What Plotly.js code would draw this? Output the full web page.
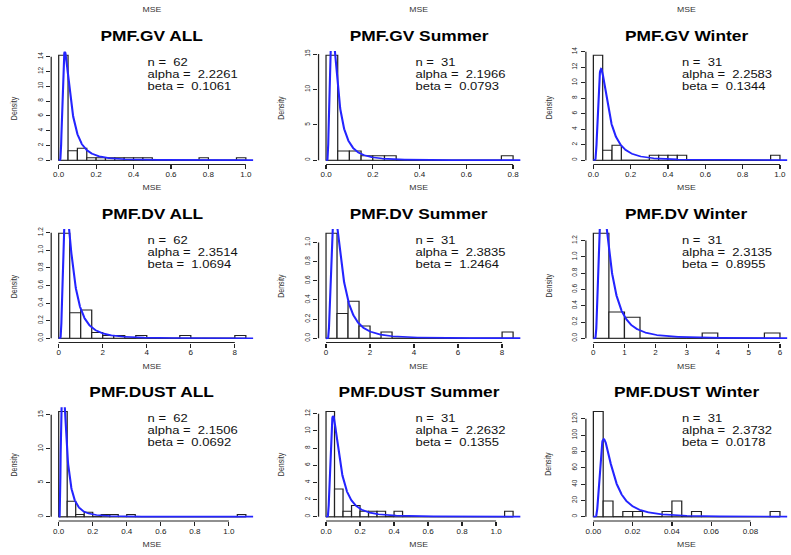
<!DOCTYPE html>
<html>
<head>
<meta charset="utf-8">
<script src="https://cdn.plot.ly/plotly-3.0.1.min.js"></script>
<style>
  html, body { margin: 0; padding: 0; background: #ffffff; overflow: hidden; }
  /* the figure is laid out narrower and widened horizontally */
  #chart { width: 638px; height: 555px; transform: scaleX(1.24); transform-origin: 0 0; }
</style>
</head>
<body>
<div id="chart"></div>
<script>
// ---- panel metadata -------------------------------------------------------
const panelTitles = ['PMF.GV ALL', 'PMF.GV Summer', 'PMF.GV Winter',
                     'PMF.DV ALL', 'PMF.DV Summer', 'PMF.DV Winter',
                     'PMF.DUST ALL', 'PMF.DUST Summer', 'PMF.DUST Winter'];
const sampleSizes = [62, 31, 31, 62, 31, 31, 62, 31, 31];
const alphaValues = [2.2261, 2.1966, 2.2583, 2.3514, 2.3835, 2.3135, 2.1506, 2.2632, 2.3732];
const betaValues  = [0.1061, 0.0793, 0.1344, 1.0694, 1.2464, 0.8955, 0.0692, 0.1355, 0.0178];
const binWidths   = [0.05, 0.05, 0.05, 0.5, 0.5, 0.5, 0.05, 0.05, 0.005];

// ---- histogram counts per bin (bins start at 0) ---------------------------
const gvAllCounts      = [44, 4, 5, 1, 1, 1, 1, 1, 1, 1, 0, 0, 0, 0, 0, 1, 0, 0, 0, 1];
const gvSummerCounts   = [23, 2, 2, 1, 1, 1, 0, 0, 0, 0, 0, 0, 0, 0, 0, 1];
const gvWinterCounts   = [21, 2, 3, 0, 0, 0, 1, 1, 1, 1, 0, 0, 0, 0, 0, 0, 0, 0, 0, 1];
const dvAllCounts      = [37, 9, 10, 2, 1, 1, 0, 1, 0, 0, 0, 1, 0, 0, 0, 0, 1];
const dvSummerCounts   = [17, 4, 6, 2, 0, 1, 0, 0, 0, 0, 0, 0, 0, 0, 0, 0, 1];
const dvWinterCounts   = [20, 5, 4, 0, 0, 0, 0, 1, 0, 0, 0, 1];
const dustAllCounts    = [48, 7, 1, 2, 0, 1, 1, 0, 1, 0, 0, 0, 0, 0, 0, 0, 0, 0, 0, 0, 0, 1];
const dustSummerCounts = [19, 5, 1, 2, 1, 1, 1, 0, 1, 0, 0, 0, 0, 0, 0, 0, 0, 0, 0, 0, 0, 1];
const dustWinterCounts = [20, 3, 0, 1, 1, 0, 0, 1, 3, 0, 1, 0, 0, 0, 0, 0, 0, 0, 1];
const binCounts = [gvAllCounts, gvSummerCounts, gvWinterCounts,
                   dvAllCounts, dvSummerCounts, dvWinterCounts,
                   dustAllCounts, dustSummerCounts, dustWinterCounts];

// ---- tick labels ----------------------------------------------------------
const xTickLabels = [
  ['0.0', '0.2', '0.4', '0.6', '0.8', '1.0'],
  ['0.0', '0.2', '0.4', '0.6', '0.8'],
  ['0.0', '0.2', '0.4', '0.6', '0.8', '1.0'],
  ['0', '2', '4', '6', '8'],
  ['0', '2', '4', '6', '8'],
  ['0', '1', '2', '3', '4', '5', '6'],
  ['0.0', '0.2', '0.4', '0.6', '0.8', '1.0'],
  ['0.0', '0.2', '0.4', '0.6', '0.8', '1.0'],
  ['0.00', '0.02', '0.04', '0.06', '0.08']
];
const yTickLabels = [
  ['0', '2', '4', '6', '8', '10', '12', '14'],
  ['0', '5', '10', '15'],
  ['0', '2', '4', '6', '8', '10', '12', '14'],
  ['0.0', '0.2', '0.4', '0.6', '0.8', '1.0', '1.2'],
  ['0.0', '0.2', '0.4', '0.6', '0.8', '1.0'],
  ['0.0', '0.2', '0.4', '0.6', '0.8', '1.0', '1.2'],
  ['0', '5', '10', '15'],
  ['0', '2', '4', '6', '8', '10', '12'],
  ['0', '20', '40', '60', '80', '100', '120']
];
const xAxisLabel = 'MSE';
const yAxisLabel = 'Density';

// ---- page geometry (pixels of the final 791 x 555 figure) ------------------
const FIG_W = 791, FIG_H = 555;
const colLeft = [51.2, 318.5, 585.8], colRight = [253.3, 520.5, 787.3];
const rowTop = [51, 229, 407.3], rowBottom = [164.4, 342.5, 520.9];

const FONT = '"Liberation Sans", Arial, Helvetica, sans-serif';
const INK = '#222222';

// log-gamma (Lanczos approximation)
function lnGamma(z) {
  const c = [0.99999999999980993, 676.5203681218851, -1259.1392167224028,
             771.32342877765313, -176.61502916214059, 12.507343278686905,
             -0.13857109526572012, 9.9843695780195716e-6, 1.5056327351493116e-7];
  if (z < 0.5) return Math.log(Math.PI / Math.sin(Math.PI * z)) - lnGamma(1 - z);
  z -= 1;
  let s = c[0];
  for (let i = 1; i < 9; i++) s += c[i] / (z + i);
  const t = z + 7.5;
  return 0.5 * Math.log(2 * Math.PI) + (z + 0.5) * Math.log(t) - t + Math.log(s);
}

// inverse-gamma density with shape a and scale b
function invGammaPdf(x, a, b) {
  if (x <= 0) return 0;
  return Math.exp(a * Math.log(b) - lnGamma(a) - (a + 1) * Math.log(x) - b / x);
}

const nbsp = '\u00A0';
const traces = [];
const shapes = [];
const annotations = [];
const layout = {
  width: 638, height: FIG_H,
  margin: { l: 0, r: 0, t: 0, b: 0 },
  paper_bgcolor: '#ffffff', plot_bgcolor: '#ffffff',
  showlegend: false,
  font: { family: FONT, color: INK },
  bargap: 0
};

const px2x = p => p / FIG_W;
const px2y = p => 1 - p / FIG_H;

for (let i = 0; i < 9; i++) {
  const row = Math.floor(i / 3), col = i % 3;
  const k = i === 0 ? '' : String(i + 1);
  const xa = 'x' + k, ya = 'y' + k;

  const counts = binCounts[i];
  const w = binWidths[i];
  const n = sampleSizes[i];
  const centers = counts.map((_, j) => (j + 0.5) * w);
  const dens = counts.map(c => c / (n * w));
  const xMax = counts.length * w;
  const yMax = Math.max(...dens);
  const xRange = [-0.04 * xMax, 1.04 * xMax];
  const yRange = [-0.04 * yMax, 1.04 * yMax];

  const xVals = xTickLabels[i].map(Number);
  const yVals = yTickLabels[i].map(Number);

  layout['xaxis' + k] = {
    domain: [px2x(colLeft[col]), px2x(colRight[col])],
    anchor: ya, range: xRange, fixedrange: true,
    showline: false, zeroline: false, showgrid: false,
    tickmode: 'array', tickvals: xVals, ticktext: xTickLabels[i],
    ticks: 'outside', ticklen: 4, tickwidth: 1, tickcolor: INK,
    tickfont: { family: FONT, size: 6.5, color: INK }
  };
  layout['yaxis' + k] = {
    domain: [px2y(rowBottom[row]), px2y(rowTop[row])],
    anchor: xa, range: yRange, fixedrange: true,
    showline: false, zeroline: false, showgrid: false,
    tickmode: 'array', tickvals: yVals, ticktext: yTickLabels[i],
    ticks: 'outside', ticklen: 3.3, tickwidth: 1, tickcolor: INK,
    tickangle: -90,
    tickfont: { family: FONT, size: 6.5, color: INK }
  };

  // histogram bars
  traces.push({
    type: 'bar', xaxis: xa, yaxis: ya,
    x: centers, y: dens, width: counts.map(() => w),
    marker: { color: '#ffffff', line: { color: INK, width: 1 } },
    hoverinfo: 'skip'
  });

  // fitted inverse-gamma density
  const a = alphaValues[i], b = betaValues[i];
  const cx = [], cy = [];
  const N = 800;
  for (let j = 0; j <= N; j++) {
    const x = xRange[1] * j / N;
    cx.push(x);
    cy.push(invGammaPdf(x, a, b));
  }
  traces.push({
    type: 'scatter', mode: 'lines', xaxis: xa, yaxis: ya,
    x: cx, y: cy,
    line: { color: '#2424ff', width: 1.7 },
    hoverinfo: 'skip'
  });

  // zero-height bins show as a baseline
  shapes.push({ type: 'line', layer: 'below', xref: xa, yref: ya,
    x0: 0, x1: xMax, y0: 0, y1: 0, line: { color: INK, width: 1 } });
  // axis lines spanning first to last tick
  shapes.push({ type: 'line', xref: xa, yref: ya + ' domain',
    x0: xVals[0], x1: xVals[xVals.length - 1], y0: 0, y1: 0,
    line: { color: INK, width: 1 } });
  shapes.push({ type: 'line', xref: xa + ' domain', yref: ya,
    x0: 0, x1: 0, y0: yVals[0], y1: yVals[yVals.length - 1],
    line: { color: INK, width: 1 } });

  const cxPx = (colLeft[col] + colRight[col]) / 2;
  const cyPx = (rowTop[row] + rowBottom[row]) / 2;

  // panel title
  annotations.push({
    xref: 'paper', yref: 'paper', x: px2x(cxPx), y: px2y(rowTop[row] - 15.5),
    xanchor: 'center', yanchor: 'middle', showarrow: false,
    text: '<b>' + panelTitles[i] + '</b>',
    font: { family: FONT, size: 14, color: '#000000' }
  });
  // axis titles
  annotations.push({
    xref: 'paper', yref: 'paper', x: px2x(cxPx), y: px2y(rowBottom[row] + 23.5),
    xanchor: 'center', yanchor: 'middle', showarrow: false,
    text: xAxisLabel, font: { family: FONT, size: 7, color: '#333333' }
  });
  annotations.push({
    xref: 'paper', yref: 'paper', x: px2x(colLeft[col] - 37), y: px2y(cyPx),
    xanchor: 'center', yanchor: 'middle', showarrow: false, textangle: -90,
    text: yAxisLabel, font: { family: FONT, size: 7, color: '#333333' }
  });
  // fit summary
  const statLines = ['n =' + nbsp + ' ' + n,
                     'alpha =' + nbsp + ' ' + a.toFixed(4),
                     'beta =' + nbsp + ' ' + b.toFixed(4)];
  const tx = colLeft[col] + 0.472 * (colRight[col] - colLeft[col]);
  const offs = [10.9, 22.8, 34.7];
  statLines.forEach((t, j) => {
    annotations.push({
      xref: 'paper', yref: 'paper', x: px2x(tx), y: px2y(rowTop[row] + offs[j]),
      xanchor: 'left', yanchor: 'middle', showarrow: false, borderpad: 0,
      text: t, font: { family: FONT, size: 10.5, color: '#111111' }
    });
  });
}

// axis label of the row above, visible at the top edge
for (let col = 0; col < 3; col++) {
  annotations.push({
    xref: 'paper', yref: 'paper', x: px2x((colLeft[col] + colRight[col]) / 2), y: px2y(9.5),
    xanchor: 'center', yanchor: 'middle', showarrow: false,
    text: xAxisLabel, font: { family: FONT, size: 7, color: '#333333' }
  });
}

layout.shapes = shapes;
layout.annotations = annotations;

Plotly.newPlot('chart', traces, layout, { staticPlot: true, displayModeBar: false });
</script>
</body>
</html>
